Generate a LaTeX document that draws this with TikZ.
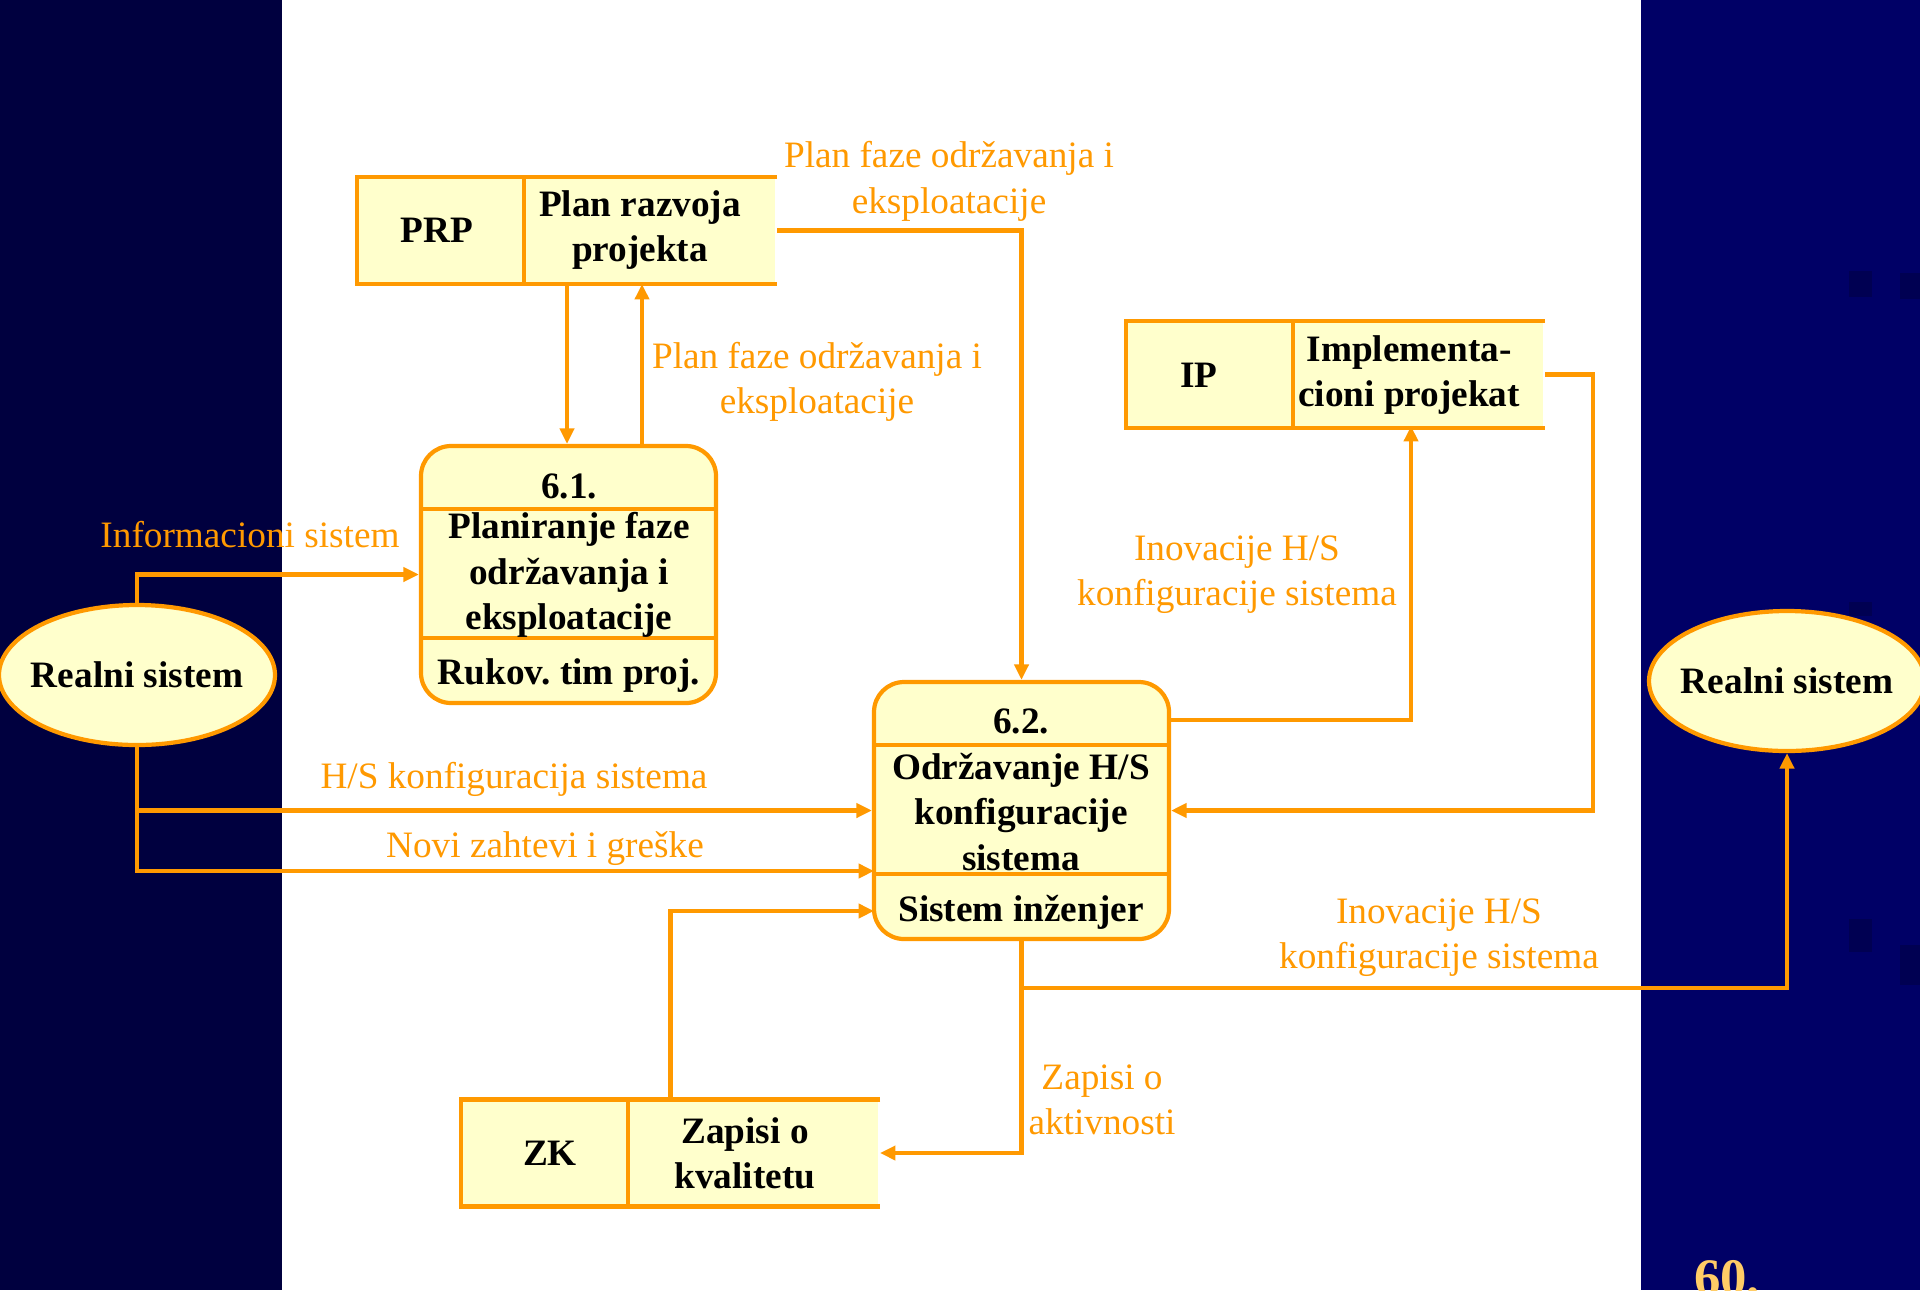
\documentclass[tikz,border=0pt]{standalone}
\usepackage{fontspec}
\setmainfont{Liberation Serif}
\usepackage{tikz}
\usetikzlibrary{arrows.meta, positioning, calc, shapes.geometric}
\definecolor{flw}{HTML}{FF9900}
\definecolor{pale}{HTML}{FFFFCC}
\definecolor{navyl}{HTML}{00003F}
\definecolor{navyr}{HTML}{000066}
\definecolor{navyd}{HTML}{000052}
\definecolor{pgno}{HTML}{FFCC66}
\frenchspacing

\begin{document}
\begin{tikzpicture}[>={Triangle[length=4.4pt,width=4pt]}, line width=1.15pt,
      every node/.style={font=\fontsize{10.6}{12.9}\selectfont},
      lbl/.style={text=flw, align=center},
      txt/.style={font=\fontsize{10.6}{12.9}\selectfont\bfseries, align=center},
      rim/.style={draw=flw, line width=1.2pt},
      proc/.style={rim, fill=pale, rounded corners=0.3cm, inner sep=0pt,
                   minimum width=2.95cm, minimum height=2.57cm},
      slot/.style={fill=pale, inner sep=0pt, minimum height=1.03cm},
      ext/.style={ellipse, rim, fill=pale, inner sep=0pt, minimum width=2.76cm,
                  minimum height=1.40cm},
      flow/.style={draw=flw, ->}]
    \useasboundingbox (0,0) rectangle (19.2,-12.9);
    \fill[navyl] (0,0) rectangle (2.82,-12.9);
    \fill[white] (2.82,0) rectangle (16.41,-12.9);
    \fill[navyr] (16.41,0) rectangle (19.2,-12.9);
    \fill[navyd] (18.49,-2.71) rectangle (18.72,-2.97);
    \fill[navyd] (19.00,-2.73) rectangle (19.2,-2.99);
    \fill[navyd] (18.49,-6.02) rectangle (18.72,-6.16);
    \fill[navyd] (18.49,-9.19) rectangle (18.72,-9.52);
    \fill[navyd] (19.00,-9.45) rectangle (19.2,-9.85);
    \node[font=\fontsize{15}{15}\selectfont\bfseries, text=pgno, anchor=base west,
          inner sep=0pt] (pgnum) at (16.92,-12.95) {60.};

    % externals
    \node[ext] (rsL) at (1.37,-6.75) {};
    \node[txt] (rsLname) at (rsL) {Realni sistem};
    \node[ext] (rsR) at (17.87,-6.81) {};
    \node[txt] (rsRname) at (rsR) {Realni sistem};

    % stores
    \node[slot, minimum width=4.16cm] (prp) at (5.67,-2.305) {};
    \draw[rim] (prp.north east) -- (prp.north west) -- (prp.south west) -- (prp.south east);
    \draw[rim] (5.24,-1.79) -- (5.24,-2.82);
    \node[txt] (prpid) at (4.37,-2.30) {PRP};
    \node[txt] (prpname) at (6.40,-2.30) {Plan razvoja\\projekta};

    \node[slot, minimum width=4.15cm] (ip) at (13.355,-3.745) {};
    \draw[rim] (ip.north east) -- (ip.north west) -- (ip.south west) -- (ip.south east);
    \draw[rim] (12.93,-3.23) -- (12.93,-4.26);
    \node[txt] (ipid) at (11.99,-3.75) {IP};
    \node[txt] (ipname) at (14.09,-3.75) {Implementa-\\cioni projekat};

    \node[slot, minimum width=4.15cm] (zk) at (6.705,-11.53) {};
    \draw[rim] (zk.north east) -- (zk.north west) -- (zk.south west) -- (zk.south east);
    \draw[rim] (6.28,-11.015) -- (6.28,-12.045);
    \node[txt] (zkid) at (5.50,-11.53) {ZK};
    \node[txt] (zkname) at (7.45,-11.53) {Zapisi o\\kvalitetu};

    % processes
    \node[proc] (p61) at (5.685,-5.745) {};
    \draw[rim] (4.21,-5.09) -- (7.16,-5.09) (4.21,-6.38) -- (7.16,-6.38);
    \node[txt] (p61no) at (5.69,-4.86) {6.1.};
    \node[txt] (p61name) at (5.69,-5.75) {Planiranje faze\\održavanja i\\eksploatacije};
    \node[txt] (p61who) at (5.69,-6.76) {Rukov. tim proj.};

    \node[proc] (p62) at (10.215,-8.105) {};
    \draw[rim] (8.74,-7.45) -- (11.69,-7.45) (8.74,-8.74) -- (11.69,-8.74);
    \node[txt] (p62no) at (10.21,-7.21) {6.2.};
    \node[txt] (p62name) at (10.21,-8.12) {Održavanje H/S\\konfiguracije\\sistema};
    \node[txt] (p62who) at (10.21,-9.12) {Sistem inženjer};

    % flows
    \coordinate (up61) at (6.42,-4.46);
    \coordinate (out62) at (11.69,-7.20);
    \coordinate (toip) at (14.11,-4.26);
    \coordinate (in62b) at (8.74,-8.71);
    \coordinate (in62c) at (8.74,-9.11);
    \draw[flow] (rsL.north) |- (p61.west);
    \draw[flow] (prp.south) -- (prp.south |- p61.north);
    \draw[flow] (up61) -- (up61 |- prp.south);
    \draw[flow] (prp.east) -| (p62.north);
    \draw[flow] (out62) -| (toip);
    \draw[flow] (ip.east) -- ++(0.48,0) |- (p62.east);
    \draw[flow] (rsL.south) |- (p62.west);
    \draw[flow] (rsL.south) |- (in62b);
    \draw[flow] (zk.north) |- (in62c);
    \draw[flow] (p62.south) |- (zk.east);
    \draw[flow] (p62.south) -- ++(0,-0.47) -| (rsR.south);

    \node[lbl] (lInfo) at (2.50,-5.35) {Informacioni sistem};
    \node[lbl] (lPlanA) at (9.49,-1.815) {Plan faze održavanja i\\eksploatacije};
    \node[lbl] (lPlanB) at (8.17,-3.82) {Plan faze održavanja i\\eksploatacije};
    \node[lbl] (lInovA) at (12.37,-5.75) {Inovacije H/S\\konfiguracije sistema};
    \node[lbl] (lHS) at (5.14,-7.79) {H/S konfiguracija sistema};
    \node[lbl] (lNovi) at (5.45,-8.49) {Novi zahtevi i greške};
    \node[lbl] (lZap) at (11.02,-11.00) {Zapisi o\\aktivnosti};
    \node[lbl] (lInovB) at (14.39,-9.375) {Inovacije H/S\\konfiguracije sistema};
  \end{tikzpicture}
\end{document}
